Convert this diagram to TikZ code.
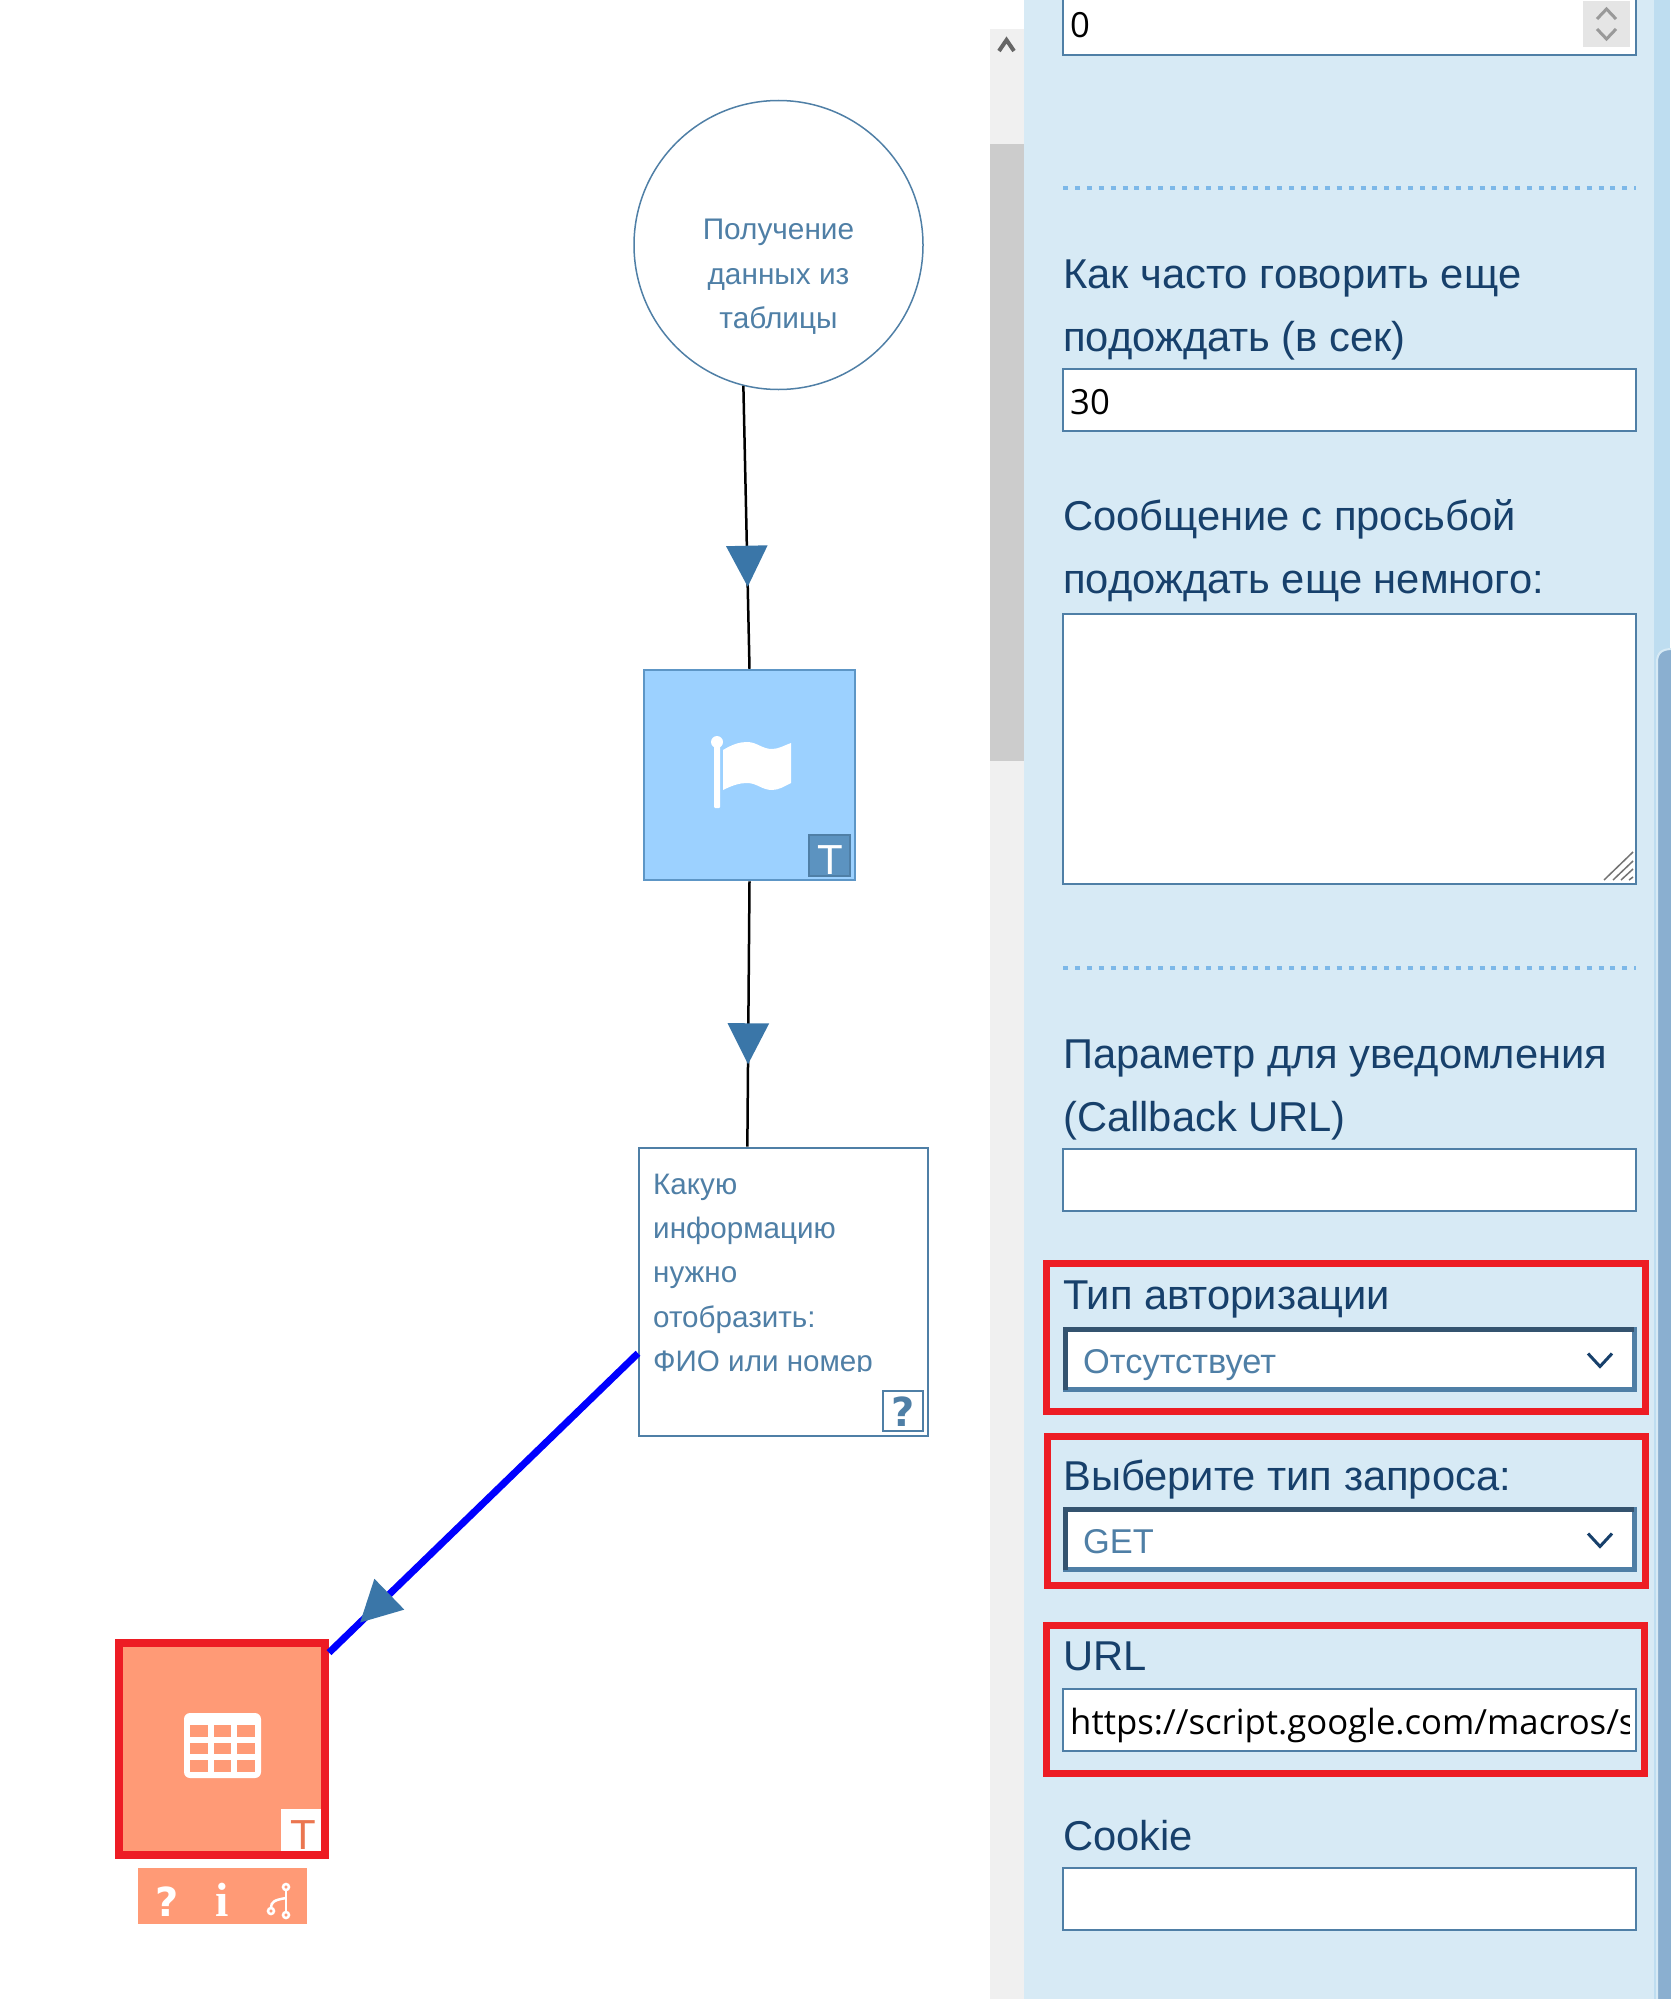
\documentclass[tikz,border=0pt]{standalone}
\usepackage{fontspec}
\setmainfont{Liberation Sans}
\newfontfamily\fieldfont{Open Sans}
\newfontfamily\slabfont{Liberation Serif}
\newfontfamily\heavyfont{DejaVu Sans}
\usetikzlibrary{decorations.markings, arrows.meta}

\definecolor{panelblue}{HTML}{D7EAF5}
\definecolor{stripblue}{HTML}{BEDDF0}
\definecolor{thumbblue}{HTML}{8AAFD0}
\definecolor{dotblue}{HTML}{7DB8E8}
\definecolor{edgeblue}{HTML}{4F7FA6}
\definecolor{edgedark}{HTML}{34536F}
\definecolor{labelnavy}{HTML}{17406B}
\definecolor{tipblue}{HTML}{3A76A8}
\definecolor{flagblue}{HTML}{9CD1FF}
\definecolor{flagedge}{HTML}{5D96C6}
\definecolor{badgeblue}{HTML}{5C93C0}
\definecolor{tablesalmon}{HTML}{FF9A76}
\definecolor{tsalmon}{HTML}{EB7650}
\definecolor{framered}{HTML}{ED1C24}

\begin{document}
\begin{tikzpicture}[%
        x = 1pt,
        y = -1pt,
        flowtip/.style = {%
            decoration = {%
                markings,
                mark = at position #1 with \arrow{Triangle[length = 41pt, width = 41pt, color = tipblue]}
            },
            postaction = {decorate}
        },
        formlabel/.style = {anchor = base west, inner sep = 0, text = labelnavy, font = \fontsize{41.7}{41.7}\selectfont},
        fieldtext/.style = {anchor = base west, inner sep = 0, text = black, font = \fieldfont\fontsize{34.7}{34.7}\selectfont},
        selecttext/.style = {anchor = base west, inner sep = 0, text = edgeblue, font = \fontsize{34.4}{34.4}\selectfont},
        inputbox/.style = {draw = edgeblue, fill = white, line width = 2pt, minimum width = 573pt, inner sep = 0},
        selectbox/.style = {draw = edgeblue, fill = white, line width = 5pt, outer sep = 0, minimum width = 569pt, minimum height = 60pt, inner sep = 0},
        redframe/.style = {draw = framered, line width = 7.5pt, inner sep = 0},
        flowtext/.style = {anchor = base west, inner sep = 0, text = edgeblue, font = \fontsize{29.6}{29.6}\selectfont},
        dotrule/.style = {dotblue, line width = 4pt, dash pattern = on 5pt off 6.9pt},
        chevron/.style = {line width = 3pt}
    ]

        \useasboundingbox (0, 0) rectangle (1670, 1999);

        % Scroll track of the canvas.
        \fill[black!6] (990, 29) rectangle (1024, 1999);
        \fill[black!20] (990, 144) rectangle (1024, 761);
        \draw[line width = 4pt, black!60] (999, 51) -- (1006.5, 40) -- (1014, 51);

        % Side panel with its own scroll bar.
        \fill[panelblue] (1024, 0) rectangle (1654, 1999);
        \fill[stripblue] (1654, 0) rectangle (1670, 1999);
        \draw[fill = thumbblue, draw = panelblue, line width = 2pt] (1657, 2003) -- (1657, 662)
            .. controls (1657, 652) and (1663, 649) .. (1672, 649) -- (1672, 2003) -- cycle;

        % Plain input boxes of the form.
        \node[inputbox, minimum height = 66pt] (zerobox) at (1349.5, 22) {};
        \node[inputbox, minimum height = 62pt] (delaybox) at (1349.5, 400) {};
        \node[inputbox, minimum height = 270pt] (messagebox) at (1349.5, 749) {};
        \node[inputbox, minimum height = 62pt] (callbackbox) at (1349.5, 1180) {};
        \node[inputbox, minimum height = 62pt] (urlbox) at (1349.5, 1720) {};
        \node[inputbox, minimum height = 62pt] (cookiebox) at (1349.5, 1899) {};

        % Spinner of the first box.
        \fill[black!10!white] (1583, 1) rectangle (1630, 47);
        \draw[chevron, black!40] (1597, 19) -- (1606.5, 9) -- (1616, 19);
        \draw[chevron, black!40] (1597, 29) -- (1606.5, 39) -- (1616, 29);

        % Grip of the text area.
        \foreach\x/\y in {1604/852, 1613/861, 1621/869, 1629/877}{%
            \draw[black!55, line width = 1.5pt] (\x, 880) -- (1633, \y);
        }

        % Dotted separators.
        \draw[dotrule] (1063, 188) -- (1636, 188);
        \draw[dotrule] (1063, 968) -- (1636, 968);

        % Labels of the form, by name and baseline.
        \foreach\name/\y/\txt in {often/288/Как часто говорить еще, wait/351/подождать (в сек),
                request/530/Сообщение с просьбой, more/593/подождать еще немного:,
                param/1068/Параметр для уведомления, callback/1131/(Callback URL),
                authtype/1309/Тип авторизации, querytype/1490/Выберите тип запроса:,
                url/1670/URL, cookie/1850/Cookie}{%
            \node[formlabel] (\name) at (1063, \y) {\txt};
        }

        % Values in the boxes.
        \node[fieldtext] (zerotext) at (1070, 38) {0};
        \node[fieldtext] (delaytext) at (1070, 414) {30};
        \begin{scope}
            \clip (1065, 1690) rectangle (1629, 1750);
            \node[fieldtext] (urltext) at (1070, 1734) {https://script.google.com/macros/s};
        \end{scope}

        % Drop-down lists, lit from below.
        \foreach\name/\y/\txt in {authlist/1359.5/Отсутствует, querylist/1539.5/GET}{%
            \node[selectbox] (\name) at (1349.5, \y) {};
            \draw[edgedark, line width = 5pt] (\name.south west) -- (\name.north west) -- (\name.north east);
            \node[selecttext] (\name text) at (1083, \y + 13.5) {\txt};
            \draw[chevron, labelnavy] (1588, \y - 6) -- (1600, \y + 7) -- (1612, \y - 6);
        }

        % Red frames around the fields that matter.
        \node[redframe, minimum width = 599pt, minimum height = 148pt] (authframe) at (1346, 1337.5) {};
        \node[redframe, minimum width = 598pt, minimum height = 149pt] (queryframe) at (1346.5, 1511) {};
        \node[redframe, minimum width = 598pt, minimum height = 148pt] (urlframe) at (1345.5, 1699.5) {};

        % The start block, its text sitting low.
        \node[circle, draw = edgeblue, line width = 1.5pt, minimum size = 289pt, inner sep = 0] (datacircle) at (778.5, 245) {};
        \node[align = center, inner sep = 0, text = edgeblue, font = \fontsize{29.8}{44.3}\selectfont] (datatext) at (778.5, 277)
            {Получение\\данных из\\таблицы};

        % The flag block.
        \node[draw = flagedge, fill = flagblue, line width = 2pt, minimum size = 210.5pt, inner sep = 0] (flagblock) at (749.5, 775) {};
        \fill[white, rounded corners = 1pt] (714, 744) rectangle (720, 808);
        \fill[white] (717, 742) circle [radius = 6];
        \fill[white] (723, 750) .. controls (733, 744) and (740, 742) .. (747, 742)
            .. controls (757, 742) and (762, 749) .. (772, 749)
            .. controls (779, 749) and (785, 745) .. (791, 743) -- (791, 783)
            .. controls (785, 786) and (779, 790) .. (772, 790)
            .. controls (762, 790) and (757, 783) .. (747, 783)
            .. controls (740, 783) and (733, 785) .. (723, 790) -- cycle;
        \node[draw = edgeblue, fill = badgeblue, line width = 2pt, minimum size = 41pt, inner sep = 0] (flagbadge) at (829.5, 855.5) {};
        \node[anchor = base, inner sep = 0, text = white, font = \fontsize{42}{42}\selectfont] (flagT) at (830, 874) {T};

        % The question block, its last line cut by the box.
        \node[draw = edgeblue, fill = white, line width = 2pt, minimum width = 289pt, minimum height = 288pt, inner sep = 0] (questionblock) at (783.5, 1291.5) {};
        \begin{scope}
            \clip (640, 1149) rectangle (926, 1371);
            \foreach\name/\y/\txt in {lineone/1194/Какую, linetwo/1238/информацию, linethree/1282/нужно, linefour/1327/отобразить:, linefive/1371/ФИО или номер}{%
                \node[flowtext] (\name) at (653, \y) {\txt};
            }
        \end{scope}
        \node[draw = edgeblue, line width = 2pt, minimum size = 40pt, inner sep = 0] (questionmark) at (902.5, 1410.5) {};
        \node[anchor = base, inner sep = 0, text = edgeblue, font = \heavyfont\bfseries\fontsize{40}{40}\selectfont] (questionsign) at (903, 1426) {?};

        % The table block, framed in red.
        \node[redframe, line width = 8pt, fill = tablesalmon, minimum size = 206pt, minimum height = 212pt] (tableblock) at (222, 1749) {};
        \fill[white, rounded corners = 6pt] (184, 1713) rectangle (261, 1778);
        \foreach\x in {190, 213.5, 237}{%
            \foreach\y in {1725, 1742.5, 1760}{%
                \fill[tablesalmon] (\x, \y) rectangle (\x + 17.5, \y + 11.5);
            }
        }
        \node[fill = white, minimum width = 40pt, minimum height = 42pt, inner sep = 0] (tablebadge) at (301, 1830) {};
        \node[anchor = base, inner sep = 0, text = tsalmon, font = \fontsize{42}{42}\selectfont] (tableT) at (303, 1849) {T};

        % Small tool bar under the table block.
        \node[fill = tablesalmon, minimum width = 169pt, minimum height = 56pt, inner sep = 0] (toolbar) at (222.5, 1896) {};
        \node[anchor = base, inner sep = 0, text = white, font = \heavyfont\bfseries\fontsize{40}{40}\selectfont] (helpsign) at (167, 1916) {?};
        \node[anchor = base, inner sep = 0, text = white, font = \slabfont\bfseries\fontsize{48}{48}\selectfont] (infosign) at (222, 1916) {i};
        \draw[white, line width = 2.5pt] (286, 1890) -- (286, 1911);
        \draw[white, line width = 2.5pt] (286, 1898) .. controls (274, 1900) and (271, 1902) .. (271, 1908);
        \draw[white, fill = tablesalmon, line width = 2.5pt] (286, 1887) circle [radius = 3];
        \draw[white, fill = tablesalmon, line width = 2.5pt] (286, 1915) circle [radius = 3];
        \draw[white, fill = tablesalmon, line width = 2.5pt] (271, 1911) circle [radius = 3];

        % Connectors between the blocks.
        \draw[flowtip = 0.71, line width = 2.5pt] (datacircle.256) to (flagblock.north);
        \draw[flowtip = 0.69, line width = 2.5pt] (flagblock.south) to (questionblock.104.4);
        \draw[flowtip = 0.90, blue, line width = 7pt] (questionblock.203.3) to (tableblock.42.5);
    \end{tikzpicture}
\end{document}
